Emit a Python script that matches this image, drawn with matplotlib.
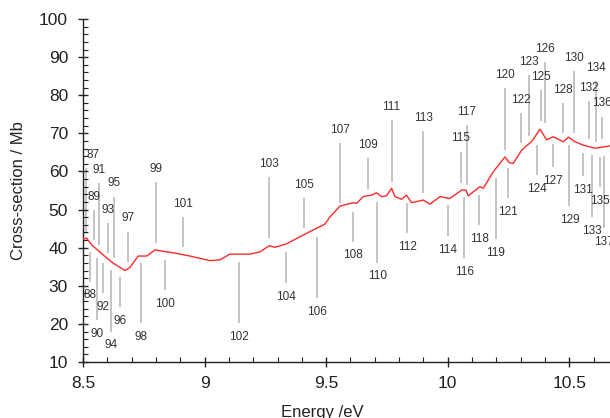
import matplotlib
matplotlib.use("Agg")
import matplotlib.pyplot as plt
from matplotlib.ticker import MultipleLocator

plt.rcParams['font.family'] = ['Liberation Sans', 'DejaVu Sans']

# measured cross-section curve
energy = [8.501, 8.515, 8.536, 8.583, 8.625, 8.673, 8.693, 8.727, 8.762, 8.796,
          8.844, 8.885, 8.94, 9.022, 9.063, 9.104, 9.187, 9.228, 9.266, 9.289,
          9.337, 9.399, 9.461, 9.495, 9.516, 9.557, 9.611, 9.625, 9.652, 9.687,
          9.707, 9.728, 9.748, 9.769, 9.783, 9.810, 9.830, 9.851, 9.899, 9.927,
          9.968, 10.009, 10.057, 10.075, 10.084, 10.132, 10.146, 10.187, 10.235,
          10.253, 10.269, 10.304, 10.338, 10.350, 10.379, 10.406, 10.434, 10.475,
          10.496, 10.523, 10.557, 10.605, 10.667]
xsec = [42.2, 42.5, 40.7, 38.1, 35.9, 34.0, 34.8, 37.8, 37.8, 39.4,
        38.9, 38.5, 37.8, 36.6, 36.8, 38.3, 38.3, 38.9, 40.5, 40.1,
        41.0, 43.1, 45.1, 46.2, 48.1, 50.9, 51.8, 51.6, 53.4, 53.8,
        54.4, 53.4, 53.6, 55.6, 53.4, 52.7, 53.8, 51.8, 52.5, 51.4,
        53.4, 52.9, 55.1, 55.1, 53.6, 56.0, 55.6, 59.9, 63.8,
        62.3, 62.1, 65.6, 67.5, 68.3, 71.1, 68.3, 69.1, 67.8,
        69.0, 67.8, 66.9, 66.1, 66.7]

# assignment markers: number, energy, end near curve, far end
mark_id = list(range(87, 138))
mark_x = [8.512, 8.529, 8.545, 8.556, 8.567, 8.581, 8.604, 8.614, 8.629, 8.651,
          8.686, 8.737, 8.799, 8.837, 8.910, 9.143, 9.266, 9.335, 9.407, 9.461,
          9.557, 9.611, 9.671, 9.710, 9.769, 9.834, 9.899, 9.999, 10.053, 10.067,
          10.078, 10.130, 10.198, 10.236, 10.249, 10.301, 10.334, 10.365, 10.385, 10.400,
          10.434, 10.475, 10.500, 10.520, 10.557, 10.579, 10.594, 10.608, 10.626, 10.634,
          10.644]
mark_near = [43.5, 38.9, 42.0, 37.2, 40.7, 35.9, 38.5, 34.1, 37.2, 32.4,
             36.3, 35.9, 41.3, 36.8, 40.1, 36.3, 42.5, 38.9, 45.1, 42.7,
             51.6, 49.4, 55.3, 52.1, 57.3, 51.8, 54.4, 51.2, 57.0, 53.4,
             56.4, 53.8, 58.2, 65.6, 60.8, 67.4, 69.3, 66.9, 73.3, 72.6,
             67.2, 70.0, 66.9, 70.2, 64.9, 68.4, 64.3, 67.8, 63.9, 68.4,
             64.1]
mark_far = [60.4, 31.1, 49.9, 21.0, 56.9, 28.0, 46.4, 18.0, 53.4, 24.5,
            44.2, 20.2, 57.3, 28.9, 48.0, 20.3, 58.6, 30.8, 53.0, 26.7,
            67.5, 41.6, 63.4, 36.1, 73.5, 43.9, 70.6, 43.1, 65.2, 37.2,
            72.2, 45.9, 42.2, 81.8, 53.0, 75.3, 85.3, 59.1, 81.4, 88.8,
            61.2, 77.9, 50.9, 86.4, 58.8, 78.5, 48.1, 83.8, 56.0, 74.4,
            45.1]

fig = plt.figure(figsize=(6.1, 4.18), dpi=100)
ax = fig.add_axes([0.136, 0.134, 0.864, 0.8205])

for n, x, y0, y1 in zip(mark_id, mark_x, mark_near, mark_far):
    ax.plot([x, x], [y0, y1], color="#b4b4b4", lw=1.1, solid_capstyle="butt", zorder=1)
    up = y1 > y0
    if n == 87:
        ax.annotate(str(n), xy=(x, y1), xytext=(5, 11), textcoords="offset points",
                    ha="center", va="center", fontsize=8.5, color="#333333",
                    arrowprops=dict(arrowstyle="-", color="#b4b4b4", lw=1.0,
                                    shrinkA=4, shrinkB=0))
        continue
    ax.annotate(str(n), xy=(x, y1), xytext=(0, 9.5 if up else -10),
                textcoords="offset points", ha="center", va="center",
                fontsize=8.5, color="#333333", annotation_clip=False)

ax.plot(energy, xsec, color="#ff2a2a", lw=1.0, zorder=3)

ax.set_xlim(8.5, 10.667)
ax.set_ylim(10, 100)
ax.xaxis.set_major_locator(MultipleLocator(0.5))
ax.xaxis.set_minor_locator(MultipleLocator(0.1))
ax.yaxis.set_major_locator(MultipleLocator(10))
ax.yaxis.set_minor_locator(MultipleLocator(2))
ax.xaxis.set_major_formatter(plt.FuncFormatter(lambda v, p: f"{v:g}"))

ax.spines["top"].set_visible(False)
ax.spines["right"].set_visible(False)
for s in ("left", "bottom"):
    ax.spines[s].set_linewidth(1.0)
    ax.spines[s].set_color("#222222")

ax.tick_params(which="major", direction="inout", length=6.5, width=1.0,
               labelsize=12.5, colors="#222222")
ax.tick_params(axis="y", which="major", pad=7.5)
ax.tick_params(axis="x", which="major", pad=7)
ax.tick_params(which="minor", direction="in", length=3.5, width=0.8, colors="#222222")

ax.set_ylabel("Cross-section / Mb", fontsize=12, color="#222222")
ax.set_xlabel("Energy /eV", fontsize=12, color="#222222")
ax.yaxis.set_label_coords(-0.108, 0.5)
ax.xaxis.set_label_coords(0.4535, -0.125)

fig.savefig("out.png", dpi=100)
